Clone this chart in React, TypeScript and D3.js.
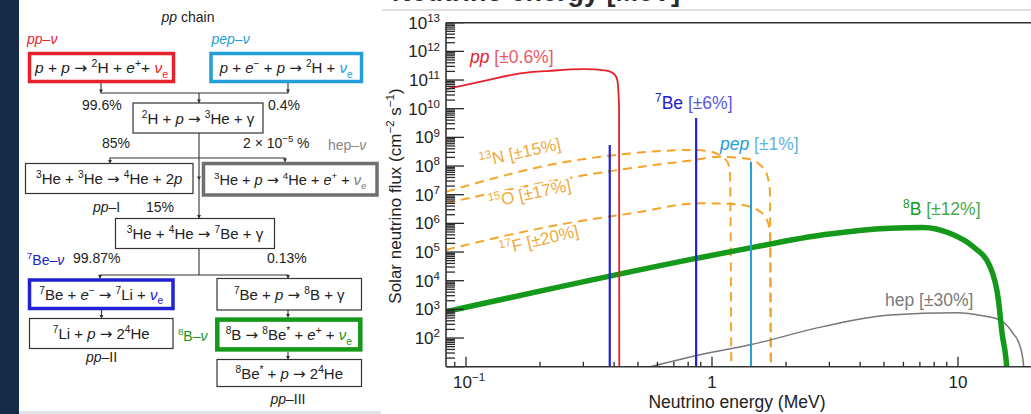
import React from 'react';
import * as d3 from 'd3';

const FONT = '"Liberation Sans", Arial, Helvetica, sans-serif';

// ---------- chart data (energy in MeV, flux in cm^-2 s^-1 MeV^-1 or cm^-2 s^-1) ----------
const ppEnergy = [0.083, 0.12, 0.166, 0.22, 0.299, 0.373, 0.403, 0.412, 0.416, 0.419, 0.42];
const ppFlux = [4.8e10, 9.5e10, 1.7e11, 2.1e11, 2.4e11, 2.14e11, 1.51e11, 1.0e11, 4.5e10, 1e10, 1];

const n13Energy = [0.083, 0.2566, 0.41, 0.837, 1.0, 1.098, 1.161, 1.184, 1.199];
const n13Flux = [1.27e7, 1.41e8, 2.45e8, 3.63e8, 3.09e8, 2.09e8, 1.29e8, 4.9e7, 1];

const o15Energy = [0.083, 0.2566, 0.41, 0.837, 1.078, 1.388, 1.567, 1.674, 1.72, 1.732];
const o15Flux = [5.1e6, 3.7e7, 7.2e7, 1.6e8, 2.1e8, 1.8e8, 1.1e8, 4.9e7, 1.4e7, 1];

const f17Energy = [0.083, 0.2566, 0.3605, 0.464, 0.894, 1.184, 1.384, 1.567, 1.674, 1.72, 1.74];
const f17Flux = [1.2e5, 1.0e6, 1.6e6, 2.2e6, 5.0e6, 4.8e6, 4.1e6, 2.6e6, 1.3e6, 5.0e5, 1];

const b8Energy = [0.083, 0.861, 1.52, 2.83, 5.29, 7.23, 9.27, 11.5, 13.5, 14.6, 15.1, 15.8, 16.0];
const b8Flux = [8.3e2, 6.0e4, 1.55e5, 4.0e5, 6.8e5, 7.2e5, 4.5e5, 1.55e5, 3.1e4, 2.1e3, 1.5e2, 8, 1];

const hepEnergy = [0.5, 0.562, 0.894, 1.43, 2.83, 5.29, 9.88, 12.6, 14.8, 16.7, 17.9, 18.5, 18.8];
const hepFlux = [8, 10, 26, 58, 250, 630, 760, 600, 430, 150, 50, 10, 1];

const be7LineEnergy = [0.384, 0.862];
const be7LineFlux = [5.4e8, 4.7e9];
const pepLineEnergy = [1.44];
const pepLineFlux = [1.4e8];

const yTickExponents = [2, 3, 4, 5, 6, 7, 8, 9, 10, 11, 12, 13];
const xTickValues = [0.1, 1, 10];
const xTickBases = ['10', '1', '10'];
const xTickExps = ['\u22121', '', ''];

// ---------- colours ----------
const RED = '#e5222b';
const RED_L = '#e85a5e';
const BLUE = '#2020d8';
const BLUE_L = '#5a5adf';
const LBLUE = '#249ed8';
const LBLUE_L = '#62b5de';
const GREEN = '#15991a';
const GREEN_L = '#46a946';
const ORANGE = '#f4a428';
const ORANGE_T = '#f0aa3e';
const GRAY = '#777777';

type Seg = { t: string; sup?: boolean; sub?: boolean; it?: boolean; c?: string };
const I = (t: string, c?: string): Seg => ({ t, it: true, c });
const S = (t: string, c?: string): Seg => ({ t, sup: true, c });
const B = (t: string, c?: string): Seg => ({ t, sub: true, c });
const P = (t: string, c?: string): Seg => ({ t, c });

function Rich(props: {
  x: number; y: number; segs: (Seg | string)[]; size?: number; anchor?: string;
  fill?: string; rotate?: number; weight?: string; halo?: boolean;
}) {
  const { x, y, segs, size = 15, anchor = 'start', fill = '#222', rotate = 0, weight, halo } = props;
  // split arrows into their own pieces so they can use a wider glyph
  const flat: Seg[] = [];
  segs.forEach((s0) => {
    const s: Seg = typeof s0 === 'string' ? { t: s0 } : s0;
    if (s.t.includes('\u2192') && !s.sup && !s.sub) {
      const parts = s.t.split('\u2192');
      parts.forEach((p, k) => {
        if (p) flat.push({ ...s, t: p });
        if (k < parts.length - 1) flat.push({ ...s, t: '\u2192', it: false, ar: true } as any);
      });
    } else flat.push(s);
  });
  let prev = 0;
  const spans = flat.map((s, i) => {
    const shift = s.sup ? -0.4 * size : s.sub ? 0.3 * size : 0;
    const dy = shift - prev;
    prev = shift;
    const ar = (s as any).ar;
    return (
      <tspan key={i} dy={dy !== 0 ? dy : undefined} fontSize={s.sup || s.sub ? size * 0.68 : size}
        fontStyle={s.it ? 'italic' : undefined} fill={s.c}
        fontFamily={ar ? '"DejaVu Sans", sans-serif' : undefined}>{s.t}</tspan>
    );
  });
  return (
    <text x={x} y={y} textAnchor={anchor as any} fontSize={size} fill={fill} fontFamily={FONT}
      fontWeight={weight}
      stroke={halo ? '#fff' : undefined} strokeWidth={halo ? 4 : undefined}
      style={{ whiteSpace: 'pre', paintOrder: halo ? 'stroke' : undefined } as any}
      transform={rotate ? `rotate(${rotate} ${x} ${y})` : undefined}>
      {spans}
    </text>
  );
}

// ---------- diagram layout ----------
type Box = { x: number; y: number; w: number; h: number; stroke: string; sw: number; size?: number; segs: (Seg | string)[] };
const boxes: Box[] = [
  { x: 29.5, y: 53.5, w: 144, h: 28, stroke: RED, sw: 3.5, size: 15.5,
    segs: [I('p'), ' + ', I('p'), ' \u2192 ', S('2'), 'H + ', I('e'), S('+'), '+ ', I('\u03bd', RED), B('e', RED)] },
  { x: 211, y: 53.5, w: 150.5, h: 28, stroke: LBLUE, sw: 3.5,
    segs: [I('p'), ' + ', I('e'), S('\u2212'), ' + ', I('p'), ' \u2192 ', S('2'), 'H + ', I('\u03bd', LBLUE), B('e', LBLUE)] },
  { x: 133, y: 103, w: 130, h: 30, stroke: '#333', sw: 1.2,
    segs: [S('2'), 'H + ', I('p'), ' \u2192 ', S('3'), 'He + \u03b3'] },
  { x: 25.5, y: 163.5, w: 167.5, h: 30, stroke: '#333', sw: 1.2,
    segs: [S('3'), 'He + ', S('3'), 'He \u2192 ', S('4'), 'He + 2', I('p')] },
  { x: 203.5, y: 163.5, w: 173.5, h: 31.5, stroke: '#707070', sw: 3.5, size: 14.5,
    segs: [S('3'), 'He + ', I('p'), ' \u2192 ', S('4'), 'He + ', I('e'), S('+'), ' + ', I('\u03bd', GRAY), B('e', GRAY)] },
  { x: 115.5, y: 218.5, w: 159, h: 30, stroke: '#333', sw: 1.2,
    segs: [S('3'), 'He + ', S('4'), 'He \u2192 ', S('7'), 'Be + \u03b3'] },
  { x: 29.5, y: 280, w: 143.5, h: 28.5, stroke: BLUE, sw: 3.5,
    segs: [S('7'), 'Be + ', I('e'), S('\u2212'), ' \u2192 ', S('7'), 'Li + ', I('\u03bd', BLUE), B('e', BLUE)] },
  { x: 217, y: 278.5, w: 144.5, h: 31.5, stroke: '#333', sw: 1.2,
    segs: [S('7'), 'Be + ', I('p'), ' \u2192 ', S('8'), 'B + \u03b3'] },
  { x: 29.5, y: 318.5, w: 143.5, h: 30, stroke: '#333', sw: 1.2,
    segs: [S('7'), 'Li + ', I('p'), ' \u2192 2', S('4'), 'He'] },
  { x: 217.3, y: 319.6, w: 143, h: 29.8, stroke: GREEN, sw: 4.5,
    segs: [S('8'), 'B \u2192 ', S('8'), 'Be', S('*'), ' + ', I('e'), S('+'), ' + ', I('\u03bd', GREEN), B('e', GREEN)] },
  { x: 217, y: 359.5, w: 144.5, h: 27, stroke: '#333', sw: 1.2,
    segs: [S('8'), 'Be', S('*'), ' + ', I('p'), ' \u2192 2', S('4'), 'He'] },
];

const connectors: [number, number][][] = [
  [[101, 83], [101, 93], [288, 93], [288, 83]],
  [[199, 93], [199, 103]],
  [[199, 133], [199, 218.5]],
  [[110, 163.5], [110, 158], [285, 158], [285, 162]],
  [[199, 248.5], [199, 275]],
  [[100, 278.5], [100, 275], [288, 275], [288, 278.5]],
  [[101.5, 310], [101.5, 318.5]],
  [[288, 310], [288, 317.5]],
  [[288, 352], [288, 359.5]],
];
const arrowTips: [number, number][] = [
  [101, 93], [288, 93], [199, 103], [110, 163.5], [285, 162], [199, 218.5], [199, 180],
  [100, 278.5], [288, 278.5], [101.5, 318.5], [288, 317.5], [288, 359.5],
];

type Lbl = { x: number; y: number; segs: (Seg | string)[]; anchor?: string; c?: string; size?: number };
const diagramLabels: Lbl[] = [
  { x: 188, y: 22, segs: [I('pp'), ' chain'], anchor: 'middle' },
  { x: 27, y: 44, segs: [I('pp'), '\u2013', I('\u03bd')], c: RED },
  { x: 211.5, y: 44, segs: [I('pep'), '\u2013', I('\u03bd')], c: LBLUE },
  { x: 82, y: 110, segs: ['99.6%'] },
  { x: 268, y: 110, segs: ['0.4%'] },
  { x: 102, y: 148, segs: ['85%'] },
  { x: 243, y: 148, segs: ['2 \u00d7 10', S('\u22125'), ' %'] },
  { x: 328, y: 150, segs: ['hep\u2013', I('\u03bd')], c: '#888' },
  { x: 93, y: 212, segs: [I('pp'), '\u2013I'] },
  { x: 146, y: 212, segs: ['15%'] },
  { x: 27, y: 265, segs: [S('7'), 'Be\u2013', I('\u03bd')], c: BLUE },
  { x: 73, y: 263, segs: ['99.87%'] },
  { x: 267, y: 263, segs: ['0.13%'] },
  { x: 101.5, y: 362, segs: [I('pp'), '\u2013II'], anchor: 'middle' },
  { x: 178, y: 341, segs: [S('8'), 'B\u2013', I('\u03bd')], c: GREEN },
  { x: 288, y: 404, segs: [I('pp'), '\u2013III'], anchor: 'middle' },
];

// ---------- chart layout ----------
const PL = 446, PR = 1031, PT = 22.7, PB = 366.7;
const x = d3.scaleLog().domain([0.1, 10]).range([466, 958]);
const y = d3.scaleLog().domain([10, 1e13]).range([PB, PT]);

function pathOf(es: number[], fs: number[]) {
  const pts: [number, number][] = es.map((e, i) => [x(e), y(fs[i])]);
  return d3.line().curve(d3.curveMonotoneX)(pts) || '';
}

export default function App() {
  const xMin = x.invert(PL), xMax = x.invert(PR + 5);
  const xMinor: number[] = [];
  for (let e = -2; e <= 1; e++) for (let k = 2; k <= 9; k++) {
    const v = k * Math.pow(10, e);
    if (v > xMin && v < xMax) xMinor.push(v);
  }
  const yMinor: number[] = [];
  for (let e = 1; e < 13; e++) for (let k = 2; k <= 9; k++) yMinor.push(k * Math.pow(10, e));
  const yMajor = [1, ...yTickExponents].map((n) => Math.pow(10, n));

  return (
    <div style={{ position: 'fixed', left: 0, top: 0, width: 1031, height: 414, background: '#fff' }}>
      <svg width={1031} height={414} style={{ display: 'block' }} fontFamily={FONT}>
        <defs>
          <clipPath id="plotclip">
            <rect x={PL} y={PT} width={PR - PL + 10} height={PB - PT} />
          </clipPath>
        </defs>
        <rect x={0} y={0} width={1031} height={414} fill="#fff" />
        <rect x={0} y={0} width={19} height={414} fill="#142a46" />
        <rect x={19} y={411} width={362} height={3} fill="#dfe5ea" />

        {/* ---------- diagram ---------- */}
        {connectors.map((c, i) => (
          <polyline key={i} points={c.map((p) => p.join(',')).join(' ')} fill="none" stroke="#333" strokeWidth={1.1} />
        ))}
        {arrowTips.map(([ax, ay], i) => (
          <path key={i} d={`M${ax - 2},${ay - 3.5}L${ax + 2},${ay - 3.5}L${ax},${ay}Z`} fill="#333" />
        ))}
        {boxes.map((b, i) => (
          <g key={i}>
            <rect x={b.x} y={b.y} width={b.w} height={b.h} fill="#fff" stroke={b.stroke} strokeWidth={b.sw} />
            <Rich x={b.x + b.w / 2} y={b.y + b.h / 2 + 5.5} segs={b.segs} anchor="middle" size={b.size || 15} fill="#222" />
          </g>
        ))}
        {diagramLabels.map((l, i) => (
          <Rich key={i} x={l.x} y={l.y} segs={l.segs} anchor={l.anchor} size={l.size || 14} fill={l.c || '#222'} />
        ))}

        {/* ---------- cropped heading above the chart ---------- */}
        <text x={392} y={1} fontSize={27} fontWeight="bold" fill="#2a2a2a" fontFamily={FONT}>Neutrino energy [MeV]</text>
        <line x1={382} x2={1031} y1={10} y2={10} stroke="#d6d6d6" strokeWidth={1.5} />

        {/* ---------- curves ---------- */}
        <g clipPath="url(#plotclip)" fill="none">
          <path d={pathOf(n13Energy, n13Flux)} stroke={ORANGE} strokeWidth={2} strokeDasharray="9 6" />
          <path d={pathOf(o15Energy, o15Flux)} stroke={ORANGE} strokeWidth={2} strokeDasharray="9 6" />
          <path d={pathOf(f17Energy, f17Flux)} stroke={ORANGE} strokeWidth={2} strokeDasharray="9 6" />
          <path d={pathOf(hepEnergy, hepFlux)} stroke={GRAY} strokeWidth={1.5} />
          <path d={pathOf(b8Energy, b8Flux)} stroke={GREEN} strokeWidth={5.5} />
          <path d={pathOf(ppEnergy, ppFlux)} stroke={RED} strokeWidth={1.8} />
          {be7LineEnergy.map((e, i) => (
            <line key={i} x1={x(e)} x2={x(e)} y1={y(be7LineFlux[i])} y2={PB} stroke={BLUE} strokeWidth={2.2} />
          ))}
          {pepLineEnergy.map((e, i) => (
            <line key={i} x1={x(e)} x2={x(e)} y1={y(pepLineFlux[i])} y2={PB} stroke={LBLUE} strokeWidth={2} />
          ))}
        </g>

        {/* ---------- axes ---------- */}
        <g stroke="#2a2a2a" strokeWidth={1.3}>
          {yMajor.map((v, i) => <line key={'ym' + i} x1={PL} x2={PL + 18} y1={y(v)} y2={y(v)} />)}
          {yMinor.map((v, i) => <line key={'yn' + i} x1={PL} x2={PL + 9} y1={y(v)} y2={y(v)} />)}
          {xTickValues.map((v, i) => <line key={'xm' + i} x1={x(v)} x2={x(v)} y1={PB} y2={PB - 10} />)}
          {xMinor.map((v, i) => <line key={'xn' + i} x1={x(v)} x2={x(v)} y1={PB} y2={PB - 5} />)}
        </g>
        <line x1={PL} x2={PR} y1={PT} y2={PT} stroke="#333" strokeWidth={1.6} />
        <line x1={PL} x2={PR} y1={PB} y2={PB} stroke="#333" strokeWidth={1.6} />
        <line x1={PL} x2={PL} y1={PT} y2={PB} stroke="#333" strokeWidth={1.6} />

        {yTickExponents.map((n) => (
          <Rich key={'yl' + n} x={440} y={y(Math.pow(10, n)) + 6} segs={['10', S(String(n))]} anchor="end" size={17} fill="#222" />
        ))}
        {xTickValues.map((v, i) => (
          xTickExps[i]
            ? <Rich key={'xl' + i} x={x(v) - 13} y={388} segs={[xTickBases[i], S(xTickExps[i])]} size={17} fill="#222" />
            : <Rich key={'xl' + i} x={x(v)} y={388} segs={[xTickBases[i]]} anchor="middle" size={17} fill="#222" />
        ))}
        <Rich x={737} y={408} segs={['Neutrino energy (MeV)']} anchor="middle" size={17.5} fill="#222" />
        <Rich x={401} y={196} rotate={-90} anchor="middle" size={17} fill="#222"
          segs={['Solar neutrino flux (cm', S('\u22122'), ' s', S('\u22121'), ')']} />

        {/* ---------- series labels ---------- */}
        <Rich x={470} y={63} size={17.5} segs={[I('pp', RED), P(' [\u00b10.6%]', RED_L)]} />
        <Rich x={655} y={109} size={17.5} segs={[S('7', BLUE), P('Be', BLUE), P(' [\u00b16%]', BLUE_L)]} />
        <Rich x={720} y={150} size={17.5} segs={[I('pep', LBLUE), P(' [\u00b11%]', LBLUE_L)]} />
        <Rich x={903} y={215} size={17.5} segs={[S('8', GREEN), P('B', GREEN), P(' [\u00b112%]', GREEN_L)]} />
        <Rich x={885} y={306} size={17.5} fill="#7a7a7a" segs={['hep [\u00b130%]']} />
        <Rich x={481} y={167} size={17} rotate={-12.5} fill={ORANGE_T} halo segs={[S('13'), 'N [\u00b115%]']} />
        <Rich x={490} y={208} size={17} rotate={-12} fill={ORANGE_T} halo segs={[S('15'), 'O [\u00b117%]']} />
        <Rich x={501} y={255} size={17} rotate={-13.5} fill={ORANGE_T} halo segs={[S('17'), 'F [\u00b120%]']} />
      </svg>
    </div>
  );
}
